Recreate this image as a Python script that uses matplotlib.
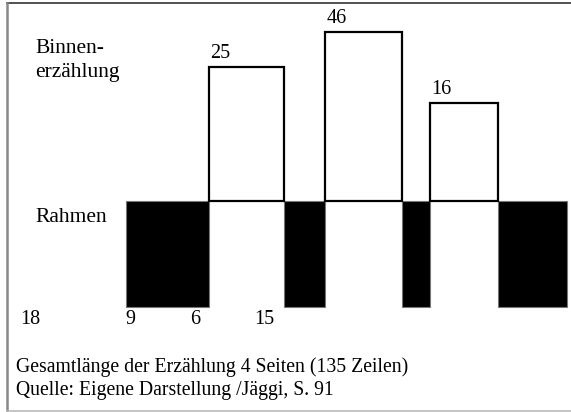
import matplotlib
matplotlib.use("Agg")
import matplotlib.pyplot as plt
import numpy as np

# data (Zeilen)
rahmen_zeilen = [18, 9, 6, 15]
binnen_zeilen = [25, 46, 16]
rahmen_label_text = ["18", "9", "6", "15"]
footer = ["Gesamtlänge der Erzählung 4 Seiten (135 Zeilen)",
          "Quelle: Eigene Darstellung /Jäggi, S. 91"]

# layout (figure pixels, schematic)
px_per_zeile = 4.6
x_start = 126
base_y = 201
rahmen_h = 106
binnen_w = [75, 77, 68]
binnen_h = [134, 169, 98]
rahmen_label_x = [30, 130, 195, 264]

plt.rcParams["font.family"] = ["Liberation Serif", "DejaVu Serif"]
fs = 14.5

fig = plt.figure(figsize=(5.71, 4.12), dpi=100)
ax = fig.add_axes([0, 0, 1, 1])
ax.set_xlim(0, 571)
ax.set_ylim(412, 0)
ax.axis("off")

# segments: Rahmen, Binnen, Rahmen, ...
x = x_start
for i, r in enumerate(rahmen_zeilen):
    w = r * px_per_zeile
    ax.bar(x, rahmen_h, width=w, bottom=base_y, align="edge",
           color="black", edgecolor="#777777", linewidth=0.8)
    x += w
    if i < len(binnen_zeilen):
        bw = binnen_w[i]
        ax.bar(x, -binnen_h[i], width=bw, bottom=base_y, align="edge",
               color="white", edgecolor="black", linewidth=1.6, zorder=3)
        ax.text(x + 1, base_y - binnen_h[i] - 4, str(binnen_zeilen[i]),
                ha="left", va="bottom", fontsize=fs)
        x += bw

for lx, t in zip(rahmen_label_x, rahmen_label_text):
    ax.text(lx, 320, t, ha="center", va="center", fontsize=fs)

ax.text(35, 48, "Binnen-", ha="left", va="center", fontsize=15.5)
ax.text(35, 72, "erzählung", ha="left", va="center", fontsize=15.5)
ax.text(35, 217, "Rahmen", ha="left", va="center", fontsize=15.5)

ax.text(16, 367, footer[0], ha="left", va="center", fontsize=14.2)
ax.text(16, 391, footer[1], ha="left", va="center", fontsize=14.2)

# frame lines
ax.plot([7, 571], [3, 3], color="#333333", linewidth=1.2)
ax.plot([7, 7], [3, 412], color="#888888", linewidth=1.8)
ax.plot([7, 571], [410.5, 410.5], color="#bbbbbb", linewidth=1.2)

fig.savefig("out.png", dpi=100)
